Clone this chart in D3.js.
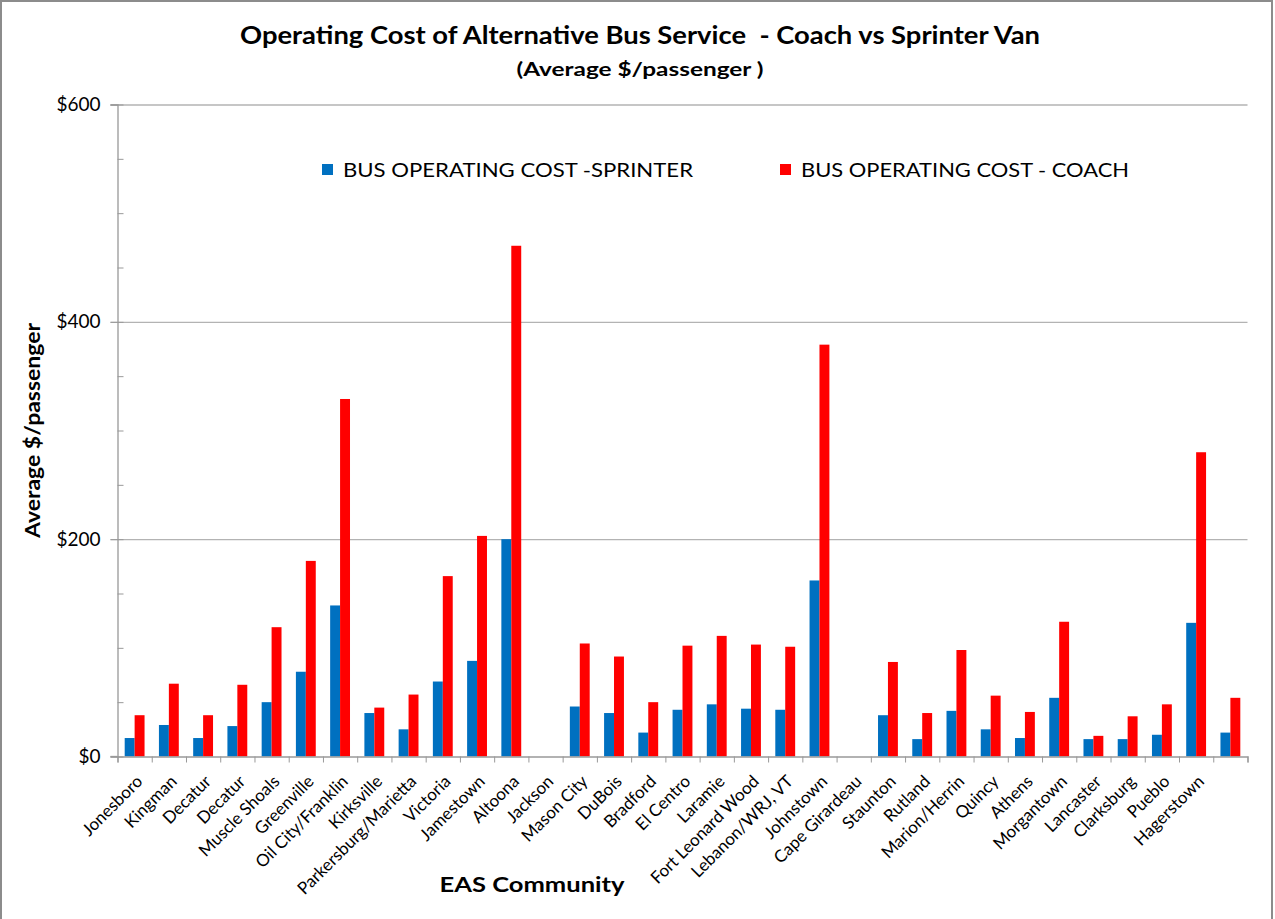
<!DOCTYPE html>
<html>
<head>
<meta charset="utf-8">
<script src="https://cdn.jsdelivr.net/npm/d3@7"></script>
<style>
  body { margin: 0; background: #fff; }
  svg { display: block; font-family: Lato, "Open Sans", sans-serif; }
  text { white-space: pre; }
</style>
</head>
<body>
<svg id="chart" width="1275" height="919"></svg>
<script>
// EAS communities (last one has no label in the original sheet)
const communities = ["Jonesboro", "Kingman", "Decatur", "Decatur", "Muscle Shoals", "Greenville",
  "Oil City/Franklin", "Kirksville", "Parkersburg/Marietta", "Victoria", "Jamestown", "Altoona",
  "Jackson", "Mason City", "DuBois", "Bradford", "El Centro", "Laramie", "Fort Leonard Wood",
  "Lebanon/WRJ, VT", "Johnstown", "Cape Girardeau", "Staunton", "Rutland", "Marion/Herrin",
  "Quincy", "Athens", "Morgantown", "Lancaster", "Clarksburg", "Pueblo", "Hagerstown", ""];

// average $/passenger
const sprinterCost = [17, 29, 17, 28, 50, 78, 139, 40, 25, 69, 88, 200, null, 46, 40, 22, 43, 48,
  44, 43, 162, null, 38, 16, 42, 25, 17, 54, 16, 16, 20, 123, 22];
const coachCost = [38, 67, 38, 66, 119, 180, 329, 45, 57, 166, 203, 470, null, 104, 92, 50, 102, 111,
  103, 101, 379, null, 87, 40, 98, 56, 41, 124, 19, 37, 48, 280, 54];

const seriesNames = ["BUS OPERATING COST -SPRINTER", "BUS OPERATING COST - COACH"];
const seriesColors = ["#0070C0", "#FF0000"];
const yTicks = [0, 200, 400, 600];

const svg = d3.select("#chart");

// outer chart frame
svg.append("rect")
  .attr("x", 1).attr("y", 1).attr("width", 1271).attr("height", 930)
  .attr("fill", "#fff").attr("stroke", "#8c8c8c").attr("stroke-width", 2);

const plotLeft = 117.5, plotRight = 1247.5, plotTop = 104.5, plotBottom = 756.5;

const idx = d3.range(communities.length);
const x = d3.scaleBand().domain(idx).range([plotLeft, plotRight]).paddingInner(0.42).paddingOuter(0.21);
const xSub = d3.scaleBand().domain([0, 1]).range([0, x.bandwidth()]);
const xEdge = d3.scaleLinear().domain([0, communities.length]).range([plotLeft, plotRight]);
const y = d3.scaleLinear().domain([0, 600]).range([plotBottom, plotTop]);

// gridlines
svg.append("g")
  .attr("transform", `translate(${plotLeft},0)`)
  .call(d3.axisLeft(y).tickValues(yTicks.slice(1)).tickSize(-(plotRight - plotLeft) - 7).tickFormat(""))
  .call(g => g.select(".domain").remove())
  .call(g => g.selectAll("line").attr("transform", "translate(-7,0)").attr("stroke", "#b3b3b3").attr("stroke-width", 1.3));

// minor ticks inside the y axis
svg.append("g")
  .attr("transform", `translate(${plotLeft},0)`)
  .call(d3.axisRight(y).ticks(12).tickSize(6).tickFormat(""))
  .call(g => g.select(".domain").remove())
  .call(g => g.selectAll("line").attr("stroke", "#999"));

// bars
const groups = svg.append("g").selectAll("g")
  .data(idx)
  .join("g")
  .attr("transform", i => `translate(${x(i)},0)`);

groups.selectAll("rect")
  .data(i => [sprinterCost[i], coachCost[i]].map((v, s) => ({ v: v, s: s })).filter(d => d.v != null))
  .join("rect")
  .attr("x", d => xSub(d.s))
  .attr("width", xSub.bandwidth())
  .attr("y", d => y(d.v))
  .attr("height", d => plotBottom - y(d.v))
  .attr("fill", d => seriesColors[d.s]);

// y axis
const yAxis = svg.append("g")
  .attr("transform", `translate(${plotLeft},0)`)
  .call(d3.axisLeft(y).tickValues(yTicks).tickSize(7).tickPadding(10).tickFormat(d => "$" + d));
yAxis.select(".domain").attr("stroke", "#999").attr("stroke-width", 1.3);
yAxis.selectAll("line").attr("stroke", "#999");
yAxis.selectAll("text").attr("font-size", 19).attr("fill", "#000").attr("font-family", "Lato, sans-serif");

// x axis - category boundary ticks
const xAxis = svg.append("g")
  .attr("transform", `translate(0,${plotBottom})`)
  .call(d3.axisBottom(xEdge).ticks(communities.length).tickSize(6).tickFormat(""));
xAxis.select(".domain").attr("stroke", "#999").attr("stroke-width", 1.3);
xAxis.selectAll("line").attr("stroke", "#999");
svg.append("line")
  .attr("x1", plotLeft - 7).attr("x2", plotLeft).attr("y1", plotBottom).attr("y2", plotBottom)
  .attr("stroke", "#999").attr("stroke-width", 1.3);

// x axis - rotated community names
svg.append("g")
  .selectAll("text")
  .data(idx)
  .join("text")
  .attr("transform", i => `translate(${x(i) + x.bandwidth() / 2 + 9},${plotBottom + 26}) rotate(-45)`)
  .attr("text-anchor", "end")
  .attr("font-size", 17)
  .attr("fill", "#000")
  .text(i => communities[i]);

// titles
svg.append("text")
  .attr("x", 640).attr("y", 44)
  .attr("text-anchor", "middle").attr("font-weight", "bold").attr("font-size", 24)
  .attr("textLength", 800).attr("lengthAdjust", "spacingAndGlyphs")
  .text("Operating Cost of Alternative Bus Service  - Coach vs Sprinter Van");
svg.append("text")
  .attr("x", 640).attr("y", 76)
  .attr("text-anchor", "middle").attr("font-weight", "bold").attr("font-size", 19)
  .attr("textLength", 247).attr("lengthAdjust", "spacingAndGlyphs")
  .text("(Average $/passenger )");

svg.append("text")
  .attr("transform", `translate(40,${(plotTop + plotBottom) / 2}) rotate(-90)`)
  .attr("text-anchor", "middle").attr("font-weight", "bold").attr("font-size", 21)
  .attr("textLength", 215).attr("lengthAdjust", "spacingAndGlyphs")
  .text("Average $/passenger");

svg.append("text")
  .attr("x", 532).attr("y", 892)
  .attr("text-anchor", "middle").attr("font-weight", "bold").attr("font-size", 21)
  .attr("textLength", 185).attr("lengthAdjust", "spacingAndGlyphs")
  .text("EAS Community");

// legend
const legendX = [322, 780], legendW = [350, 328];
const legend = svg.append("g").selectAll("g")
  .data(seriesNames)
  .join("g")
  .attr("transform", (d, i) => `translate(${legendX[i]},170)`);
legend.append("rect")
  .attr("x", 0).attr("y", -6).attr("width", 11).attr("height", 11)
  .attr("fill", (d, i) => seriesColors[i]);
legend.append("text")
  .attr("x", 21).attr("y", 7)
  .attr("font-size", 19)
  .attr("textLength", (d, i) => legendW[i]).attr("lengthAdjust", "spacingAndGlyphs")
  .text(d => d);
</script>
</body>
</html>
